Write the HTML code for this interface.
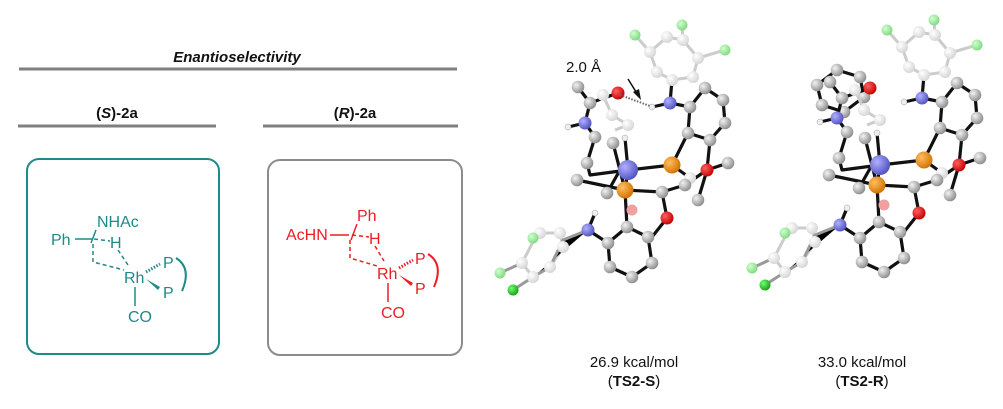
<!DOCTYPE html>
<html><head><meta charset="utf-8"><style>
html,body{margin:0;padding:0;background:#fff;}
svg{display:block;font-family:"Liberation Sans",Arial,sans-serif;}
</style></head><body>
<svg width="1003" height="409" viewBox="0 0 1003 409" xmlns="http://www.w3.org/2000/svg">
<defs>
<radialGradient id="g" cx="35%" cy="35%" r="70%"><stop offset="0" stop-color="#f2f2f2"/><stop offset="1" stop-color="#8a8a8a"/></radialGradient>
<radialGradient id="gl" cx="35%" cy="35%" r="70%"><stop offset="0" stop-color="#fff"/><stop offset="1" stop-color="#d4d4d4"/></radialGradient>
<radialGradient id="rd" cx="35%" cy="35%" r="70%"><stop offset="0" stop-color="#ff6060"/><stop offset="1" stop-color="#c00000"/></radialGradient>
<radialGradient id="bl" cx="35%" cy="35%" r="70%"><stop offset="0" stop-color="#b0b0ff"/><stop offset="1" stop-color="#5050c0"/></radialGradient>
<radialGradient id="or" cx="35%" cy="35%" r="70%"><stop offset="0" stop-color="#ffc060"/><stop offset="1" stop-color="#d07000"/></radialGradient>
<radialGradient id="gr" cx="35%" cy="35%" r="70%"><stop offset="0" stop-color="#70ff70"/><stop offset="1" stop-color="#10a010"/></radialGradient>
<radialGradient id="lg" cx="35%" cy="35%" r="70%"><stop offset="0" stop-color="#d0ffd0"/><stop offset="1" stop-color="#80d880"/></radialGradient>
<g id="mol">
 <g stroke="#ccc" stroke-width="3" fill="none">
  <polyline points="635,35 650,52 667,37 683,40 698,58 725,50"/>
  <polyline points="682,25 683,40"/>
  <polyline points="650,52 657,72 672,80 693,77 698,58"/>
  <polyline points="603,95 612,115 628,125 615,130"/>
  <polyline points="533,238 540,233 560,233 563,247 550,267 533,277 522,263 535,238"/>
 </g>
 <g stroke="#111" stroke-width="3.2" fill="none" stroke-linejoin="round">
  <polyline points="672,80 670,103 690,107 705,88 723,100 725,123 710,140 688,133 690,107"/>
  <line x1="670" y1="103" x2="652" y2="107"/>
  <line x1="688" y1="133" x2="672" y2="165"/>
  <line x1="710" y1="140" x2="707" y2="170"/>
  <line x1="628" y1="170" x2="672" y2="165"/>
  <line x1="628" y1="170" x2="625" y2="138"/>
  <polyline points="578,87 590,103 618,93"/>
  <polyline points="590,103 585,123 568,127"/>
  <polyline points="585,123 595,137 587,163 590,175 628,170"/>
  <line x1="577" y1="180" x2="625" y2="190"/>
  <line x1="613" y1="143" x2="625" y2="190"/>
  <line x1="607" y1="193" x2="620" y2="170"/>
  <line x1="625" y1="190" x2="662" y2="192"/>
  <line x1="625" y1="190" x2="627" y2="227"/>
  <line x1="625" y1="190" x2="628" y2="170"/>
  <polyline points="662,192 667,218 652,237"/>
  <polyline points="662,192 685,185 707,170 728,163"/>
  <line x1="672" y1="165" x2="690" y2="178"/>
  <line x1="707" y1="170" x2="698" y2="200"/>
  <polyline points="627,227 608,243 610,267 632,277 652,263 648,237 627,227"/>
  <polyline points="608,243 588,230 595,213"/>
 </g>
 <g stroke="#999" stroke-width="3"><polyline points="588,230 563,240 550,267 533,277"/><line x1="522" y1="263" x2="500" y2="273"/><line x1="533" y1="277" x2="513" y2="290"/></g>
 <g fill="url(#gl)">
  <circle cx="650" cy="52" r="6"/><circle cx="667" cy="37" r="6"/><circle cx="683" cy="40" r="6"/><circle cx="698" cy="58" r="6"/><circle cx="657" cy="72" r="6"/><circle cx="672" cy="80" r="6"/><circle cx="693" cy="77" r="6"/>
  <circle cx="603" cy="95" r="6"/><circle cx="612" cy="115" r="6"/><circle cx="628" cy="125" r="6"/>
  <circle cx="540" cy="233" r="6"/><circle cx="560" cy="233" r="6"/><circle cx="563" cy="247" r="6"/><circle cx="550" cy="267" r="6"/><circle cx="533" cy="277" r="6"/><circle cx="522" cy="263" r="6"/>
  <circle cx="690" cy="178" r="6"/>
 </g>
 <g fill="url(#lg)"><circle cx="635" cy="35" r="5.5"/><circle cx="682" cy="25" r="5.5"/><circle cx="725" cy="50" r="5.5"/><circle cx="533" cy="238" r="5.5"/><circle cx="500" cy="273" r="5.5"/></g>
 <circle cx="513" cy="290" r="5.5" fill="url(#gr)"/>
 <g fill="url(#g)">
  <circle cx="690" cy="107" r="6.3"/><circle cx="705" cy="88" r="6.3"/><circle cx="723" cy="100" r="6.3"/><circle cx="725" cy="123" r="6.3"/><circle cx="710" cy="140" r="6.3"/><circle cx="688" cy="133" r="6.3"/>
  <circle cx="578" cy="87" r="6.3"/><circle cx="590" cy="103" r="6.3"/><circle cx="595" cy="137" r="6.3"/><circle cx="587" cy="163" r="6.3"/>
  <circle cx="577" cy="180" r="6.3"/><circle cx="613" cy="143" r="6.3"/><circle cx="607" cy="193" r="6.3"/><circle cx="728" cy="163" r="6.3"/><circle cx="698" cy="200" r="6.3"/>
  <circle cx="662" cy="192" r="6.3"/><circle cx="685" cy="185" r="6.3"/>
  <circle cx="627" cy="227" r="6.3"/><circle cx="608" cy="243" r="6.3"/><circle cx="610" cy="267" r="6.3"/><circle cx="632" cy="277" r="6.3"/><circle cx="652" cy="263" r="6.3"/><circle cx="648" cy="237" r="6.3"/>
 </g>
 <g fill="#eee" stroke="#999" stroke-width=".5"><circle cx="652" cy="107" r="3"/><circle cx="568" cy="127" r="3"/><circle cx="625" cy="138" r="3"/><circle cx="595" cy="213" r="3"/></g>
 <circle cx="632" cy="210" r="5.5" fill="#f0a0a0"/>
 <circle cx="618" cy="93" r="6.5" fill="url(#rd)"/><circle cx="707" cy="170" r="6.5" fill="url(#rd)"/><circle cx="667" cy="218" r="6.5" fill="url(#rd)"/>
 <circle cx="585" cy="123" r="6.5" fill="url(#bl)"/><circle cx="670" cy="103" r="6.5" fill="url(#bl)"/><circle cx="588" cy="230" r="6.5" fill="url(#bl)"/>
 <circle cx="628" cy="170" r="10" fill="url(#bl)"/>
 <circle cx="672" cy="165" r="8.5" fill="url(#or)"/><circle cx="625" cy="190" r="8.5" fill="url(#or)"/>
</g>
</defs>

<text x="237" y="62" font-size="15" font-weight="bold" font-style="italic" text-anchor="middle" fill="#111">Enantioselectivity</text>
<line x1="19" y1="69" x2="457" y2="69" stroke="#7f7f7f" stroke-width="3"/>
<text x="117" y="118" font-size="15" font-weight="bold" text-anchor="middle" fill="#111">(<tspan font-style="italic">S</tspan>)-2a</text>
<text x="355" y="118" font-size="15" font-weight="bold" text-anchor="middle" fill="#111">(<tspan font-style="italic">R</tspan>)-2a</text>
<line x1="18" y1="126" x2="216" y2="126" stroke="#7f7f7f" stroke-width="3"/>
<line x1="263" y1="126" x2="458" y2="126" stroke="#7f7f7f" stroke-width="3"/>

<rect x="27" y="159" width="192" height="195" rx="12" fill="none" stroke="#1f8a88" stroke-width="2"/>
<rect x="268" y="160" width="194" height="195" rx="12" fill="none" stroke="#8c8c8c" stroke-width="2"/>

<g fill="#1f8a88" stroke="#1f8a88" font-size="16">
 <text x="97" y="227" stroke="none">NHAc</text>
 <text x="51" y="245" stroke="none">Ph</text>
 <text x="110" y="248" stroke="none">H</text>
 <text x="124" y="283" stroke="none">Rh</text>
 <text x="163" y="268" stroke="none">P</text>
 <text x="163" y="298" stroke="none">P</text>
 <text x="128" y="322" stroke="none">CO</text>
 <g stroke-width="1.5" fill="none">
  <line x1="75" y1="239" x2="92" y2="239"/>
  <line x1="96" y1="230" x2="91" y2="243"/>
  <line x1="94" y1="239" x2="110" y2="241" stroke-dasharray="4,3"/>
  <polyline points="93,244 93,262 124,270" stroke-dasharray="4,3"/>
  <line x1="118" y1="250" x2="128" y2="265" stroke-dasharray="4,3"/>
  <line x1="135" y1="287" x2="135" y2="306"/>
  <line x1="146" y1="272" x2="160" y2="264" stroke-dasharray="1.5,1.5" stroke-width="3"/>
  <path d="M176,258 Q192,268 182,291" stroke-width="2"/>
 </g>
 <polygon points="146,279 160,287 158,290" stroke="none"/>
</g>

<g fill="#ee1c24" stroke="#ee1c24" font-size="16">
 <text x="357" y="221" stroke="none">Ph</text>
 <text x="286" y="240" stroke="none">AcHN</text>
 <text x="369" y="244" stroke="none">H</text>
 <text x="377" y="279" stroke="none">Rh</text>
 <text x="415" y="264" stroke="none">P</text>
 <text x="415" y="294" stroke="none">P</text>
 <text x="381" y="318" stroke="none">CO</text>
 <g stroke-width="1.5" fill="none">
  <line x1="330" y1="235" x2="349" y2="235"/>
  <line x1="357" y1="224" x2="351" y2="240"/>
  <line x1="352" y1="235" x2="369" y2="237" stroke-dasharray="4,3"/>
  <polyline points="350,240 350,258 377,266" stroke-dasharray="4,3"/>
  <line x1="375" y1="246" x2="384" y2="261" stroke-dasharray="4,3"/>
  <line x1="388" y1="283" x2="388" y2="302"/>
  <line x1="399" y1="268" x2="413" y2="260" stroke-dasharray="1.5,1.5" stroke-width="3"/>
  <path d="M428,254 Q444,264 434,287" stroke-width="2"/>
 </g>
 <polygon points="399,275 413,283 411,286" stroke="none"/>
</g>

<use href="#mol"/>
<g transform="translate(252,-5)">
 <g stroke="#111" stroke-width="3.2" fill="none"><polyline points="565,90 585,75 608,82 612,102 592,117 570,110 565,90"/></g>
 <g fill="url(#g)"><circle cx="565" cy="90" r="6.3"/><circle cx="585" cy="75" r="6.3"/><circle cx="608" cy="82" r="6.3"/><circle cx="612" cy="102" r="6.3"/><circle cx="592" cy="117" r="6.3"/><circle cx="570" cy="110" r="6.3"/></g>
</g>
<g transform="translate(252,-5)"><use href="#mol"/></g>

<text x="566" y="72" font-size="15" fill="#111">2.0 Å</text>
<line x1="628" y1="79" x2="638" y2="95" stroke="#111" stroke-width="1.5"/>
<polygon points="641,100 633,92 639,89" fill="#111"/>
<line x1="620" y1="95" x2="650" y2="106" stroke="#666" stroke-width="2" stroke-dasharray="1.5,1.5"/>

<g font-size="15" fill="#111" text-anchor="middle">
 <text x="634" y="367">26.9 kcal/mol</text>
 <text x="634" y="386">(<tspan font-weight="bold">TS2-S</tspan>)</text>
 <text x="862" y="367">33.0 kcal/mol</text>
 <text x="862" y="386">(<tspan font-weight="bold">TS2-R</tspan>)</text>
</g>
</svg>
</body></html>
